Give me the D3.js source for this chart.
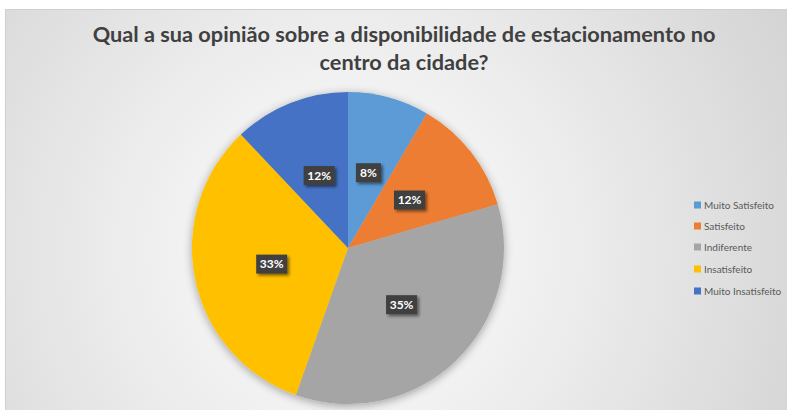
<!DOCTYPE html>
<html><head><meta charset="utf-8">
<script src="https://cdn.jsdelivr.net/npm/d3@7"></script>
<style>html,body{margin:0;padding:0;background:#fff;}svg{display:block;}</style>
</head><body>
<script>
const categories = ["Muito Satisfeito","Satisfeito","Indiferente","Insatisfeito","Muito Insatisfeito"];
const values = [7, 10, 29, 27, 10];
const colors = ["#5b9bd5","#ed7d31","#a5a5a5","#ffc000","#4472c4"];
const titleLines = ["Qual a sua opinião sobre a disponibilidade de estacionamento no","centro da cidade?"];

const W = 787, H = 410;
const svg = d3.select("body").append("svg").attr("width", W).attr("height", H);
const defs = svg.append("defs");
const rg = defs.append("radialGradient").attr("id","bg").attr("gradientUnits","userSpaceOnUse")
  .attr("cx",348).attr("cy",250).attr("r",520);
rg.append("stop").attr("offset","0").attr("stop-color","#ffffff");
rg.append("stop").attr("offset","0.45").attr("stop-color","#ececec");
rg.append("stop").attr("offset","1").attr("stop-color","#d2d2d2");
const sh = defs.append("filter").attr("id","pieShadow").attr("x","-20%").attr("y","-20%").attr("width","140%").attr("height","140%");
sh.append("feGaussianBlur").attr("in","SourceAlpha").attr("stdDeviation",5).attr("result","b");
sh.append("feOffset").attr("in","b").attr("dx",0).attr("dy",2).attr("result","o");
sh.append("feComponentTransfer").attr("in","o").attr("result","o2").append("feFuncA").attr("type","linear").attr("slope",0.35);
const m1 = sh.append("feMerge"); m1.append("feMergeNode").attr("in","o2"); m1.append("feMergeNode").attr("in","SourceGraphic");
const ls = defs.append("filter").attr("id","lblShadow").attr("x","-30%").attr("y","-30%").attr("width","170%").attr("height","170%");
ls.append("feGaussianBlur").attr("in","SourceAlpha").attr("stdDeviation",1.5).attr("result","b");
ls.append("feOffset").attr("in","b").attr("dx",2).attr("dy",2).attr("result","o");
ls.append("feComponentTransfer").attr("in","o").attr("result","o2").append("feFuncA").attr("type","linear").attr("slope",0.5);
const m2 = ls.append("feMerge"); m2.append("feMergeNode").attr("in","o2"); m2.append("feMergeNode").attr("in","SourceGraphic");

svg.append("rect").attr("x",5.5).attr("y",9.5).attr("width",W).attr("height",H)
  .attr("fill","url(#bg)").attr("stroke","#cfcfcf").attr("stroke-width",1);

// Title
const title = svg.append("g");
titleLines.forEach((t,i)=>{
  title.append("text").attr("x",404).attr("y",42 + i*28).attr("text-anchor","middle")
    .attr("font-family","Lato, 'Open Sans', sans-serif").attr("font-weight","bold")
    .attr("font-size",20).attr("fill","#404040").text(t);
});
// fit first line width to ~623px
const t0 = title.select("text").node();
const wl = t0.getComputedTextLength();
const fs = 20 * 623 / wl;
title.selectAll("text").attr("font-size", fs);

// Pie
const cx = 348, cy = 248, R = 156;
const pie = d3.pie().sort(null).value(d=>d)(values);
const arc = d3.arc().innerRadius(0).outerRadius(R);
const total = d3.sum(values);
const g = svg.append("g").attr("transform",`translate(${cx},${cy})`);
g.append("g").attr("filter","url(#pieShadow)").selectAll("path").data(pie).join("path")
  .attr("d",arc).attr("fill",(d,i)=>colors[i]);

const lblArc = d3.arc().innerRadius(R*0.5).outerRadius(R*0.5);
const lg = g.append("g").attr("font-family","Lato, 'Open Sans', sans-serif").attr("font-weight","bold").attr("font-size",12);
pie.forEach((d,i)=>{
  const [x,y] = lblArc.centroid(d);
  const txt = Math.round(d.value/total*100) + "%";
  const bw = txt.length > 2 ? 31 : 25;
  const gg = lg.append("g").attr("transform",`translate(${x},${y})`);
  gg.append("rect").attr("x",-bw/2).attr("y",-9.5).attr("width",bw).attr("height",19)
    .attr("fill","#404040").attr("filter","url(#lblShadow)");
  gg.append("text").attr("text-anchor","middle").attr("dy","0.36em").attr("fill","#ffffff").text(txt);
});

// Legend
const legY = [205, 226, 247, 269, 291];
const leg = svg.append("g").attr("font-family","Lato, 'Open Sans', sans-serif").attr("font-size",10).attr("fill","#595959");
categories.forEach((c,i)=>{
  leg.append("rect").attr("x",694).attr("y",legY[i]-3.5).attr("width",7).attr("height",7).attr("fill",colors[i]);
  leg.append("text").attr("x",704).attr("y",legY[i]).attr("dy","0.35em").text(c);
});
</script>
</body></html>
